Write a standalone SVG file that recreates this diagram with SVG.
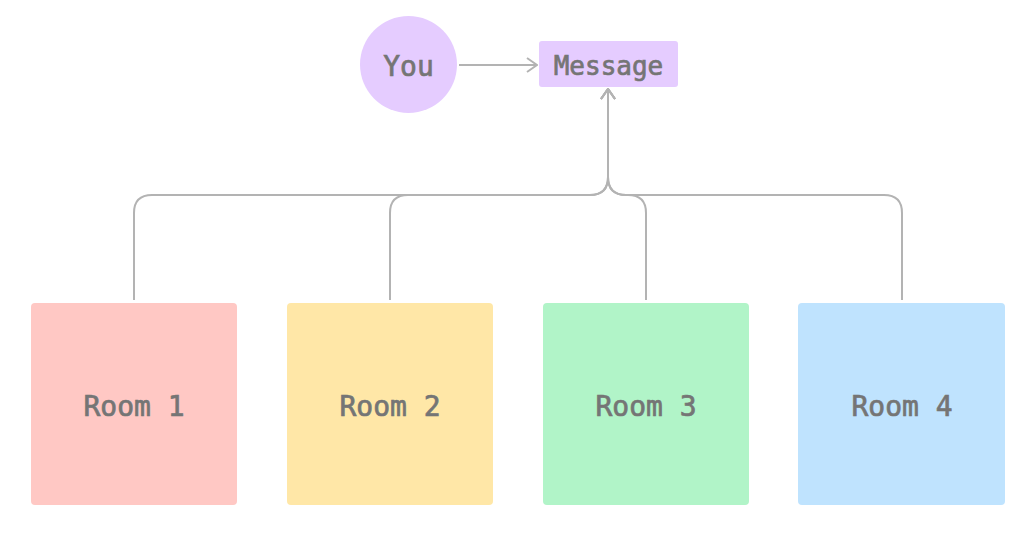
<svg xmlns="http://www.w3.org/2000/svg" width="1023" height="545" viewBox="0 0 1023 545">
<style>
.lbl{font-family:"DejaVu Sans Mono","Liberation Mono",monospace;font-weight:normal;fill:#757575;stroke:#757575;stroke-width:0.7;text-anchor:middle}
.edge{fill:none;stroke:#b3b3b3;stroke-width:2}
</style>
<defs>
<marker id="arr" viewBox="0 0 12 16" refX="11" refY="8" markerWidth="12" markerHeight="16" markerUnits="userSpaceOnUse" orient="auto">
<path d="M1,1 L11,8 L1,15" fill="none" stroke="#b3b3b3" stroke-width="2"/>
</marker>
</defs>
<rect width="1023" height="545" fill="#ffffff"/>
<g id="connectors">
<path class="edge" d="M459,65 H537" marker-end="url(#arr)"/>
<path class="edge" d="M134,300 V213 Q134,195 152,195 H590 Q608,195 608,177 V89" marker-end="url(#arr)"/>
<path class="edge" d="M390,300 V213 Q390,195 408,195 H590 Q608,195 608,177 V89" marker-end="url(#arr)"/>
<path class="edge" d="M646,300 V213 Q646,195 628,195 H626 Q608,195 608,177 V89" marker-end="url(#arr)"/>
<path class="edge" d="M902,300 V213 Q902,195 884,195 H626 Q608,195 608,177 V89" marker-end="url(#arr)"/>
</g>
<g id="you">
<circle cx="408.5" cy="64.5" r="48.5" fill="#e5ccff"/>
<text class="lbl" x="408.5" y="76" font-size="28">You</text>
</g>
<g id="message">
<rect x="539" y="41" width="139" height="46" rx="3" fill="#e5ccff"/>
<text class="lbl" x="608.5" y="74.5" font-size="26">Message</text>
</g>
<g id="room1">
<rect x="31" y="303" width="206" height="202" rx="4" fill="#ffc8c4"/>
<text class="lbl" x="134" y="416" font-size="28">Room 1</text>
</g>
<g id="room2">
<rect x="287" y="303" width="206" height="202" rx="4" fill="#ffe7a7"/>
<text class="lbl" x="390" y="416" font-size="28">Room 2</text>
</g>
<g id="room3">
<rect x="543" y="303" width="206" height="202" rx="4" fill="#b1f4c8"/>
<text class="lbl" x="646" y="416" font-size="28">Room 3</text>
</g>
<g id="room4">
<rect x="798" y="303" width="207" height="202" rx="4" fill="#bfe3fe"/>
<text class="lbl" x="902" y="416" font-size="28">Room 4</text>
</g>
</svg>
